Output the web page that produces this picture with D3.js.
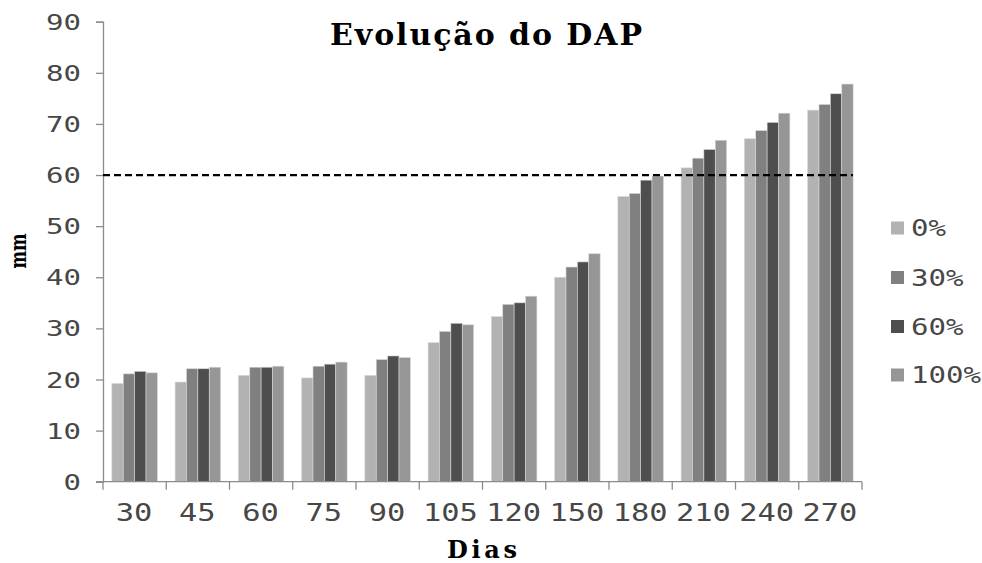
<!DOCTYPE html>
<html>
<head>
<meta charset="utf-8">
<script src="https://cdn.jsdelivr.net/npm/d3@7"></script>
<style>
  html, body { margin: 0; padding: 0; background: #fff; }
  svg { display: block; }
</style>
</head>
<body>
<svg id="chart" width="982" height="563"></svg>
<script>
const categories = ["30", "45", "60", "75", "90", "105", "120", "150", "180", "210", "240", "270"];
const seriesNames = ["0%", "30%", "60%", "100%"];
const values0   = [19.2, 19.5, 20.8, 20.3, 20.8, 27.2, 32.3, 40.0, 55.8, 61.4, 67.1, 72.7];
const values30  = [21.1, 22.1, 22.4, 22.6, 23.9, 29.4, 34.7, 42.0, 56.4, 63.3, 68.7, 73.8];
const values60  = [21.6, 22.1, 22.4, 23.0, 24.6, 31.0, 35.0, 43.0, 59.0, 65.0, 70.3, 75.9];
const values100 = [21.3, 22.4, 22.6, 23.4, 24.3, 30.7, 36.3, 44.6, 59.8, 66.8, 72.1, 77.8];
const yTicks = [0, 10, 20, 30, 40, 50, 60, 70, 80, 90];
const referenceValue = 60;
const titleText = "Evolução do DAP";
const xLabel = "Dias";
const yLabel = "mm";

const seriesValues = [values0, values30, values60, values100];
const colors = ["#b2b2b2", "#808080", "#4e4e4e", "#969696"];

const svg = d3.select("#chart");
const plotLeft = 103, plotRight = 862, plotTop = 21.7, plotBottom = 481.7;

const x = d3.scaleBand().domain(categories).range([plotLeft, plotRight]).paddingInner(0.28).paddingOuter(0.14);
const xs = d3.scaleBand().domain(seriesNames).range([0, x.bandwidth()]);
const y = d3.scaleLinear().domain([0, 90]).range([plotBottom, plotTop]);

const axisColor = "#8c8c8c";
const textColor = "#474747";
const monoFont = "'DejaVu Sans Mono', monospace";
const serifFont = "'DejaVu Serif', 'Liberation Serif', serif";

// bars
seriesNames.forEach((s, si) => {
  svg.append("g").selectAll("rect")
    .data(categories.map((c, i) => ({ c, v: seriesValues[si][i] })))
    .join("rect")
    .attr("x", d => x(d.c) + xs(s))
    .attr("y", d => y(d.v))
    .attr("width", xs.bandwidth())
    .attr("height", d => y(0) - y(d.v))
    .attr("fill", colors[si])
    .attr("stroke", "#d8d8d8")
    .attr("stroke-width", 0.6);
});

// y axis
const yAxis = svg.append("g").attr("transform", `translate(${plotLeft},0)`)
  .call(d3.axisLeft(y).tickValues(yTicks).tickSize(7).tickPadding(15));
yAxis.select(".domain").attr("stroke", axisColor).attr("stroke-width", 1.3);
yAxis.selectAll(".tick line").attr("stroke", axisColor).attr("stroke-width", 1.3);
yAxis.selectAll(".tick text")
  .attr("fill", textColor)
  .style("font-family", monoFont)
  .style("font-size", "21px")
  .attr("dy", "0.36em")
  .attr("textLength", d => String(d).length * 17.5)
  .attr("lengthAdjust", "spacingAndGlyphs");

// x axis
const xAxisG = svg.append("g").attr("transform", `translate(0,${plotBottom})`);
xAxisG.append("line").attr("x1", plotLeft - 7).attr("x2", plotRight).attr("y1", 0).attr("y2", 0)
  .attr("stroke", axisColor).attr("stroke-width", 1.3);
const boundaries = categories.map(c => x(c) - x.step() * x.paddingInner() / 2).concat([plotRight]);
xAxisG.selectAll("line.bt").data(boundaries).join("line").attr("class", "bt")
  .attr("x1", d => d).attr("x2", d => d).attr("y1", 0).attr("y2", 8)
  .attr("stroke", axisColor).attr("stroke-width", 1.3);
xAxisG.selectAll("text").data(categories).join("text")
  .attr("x", d => x(d) + x.bandwidth() / 2 - 0.5)
  .attr("y", 39.5)
  .attr("text-anchor", "middle")
  .attr("fill", textColor)
  .style("font-family", monoFont)
  .style("font-size", "25.5px")
  .attr("textLength", d => d.length * 18.3)
  .attr("lengthAdjust", "spacingAndGlyphs")
  .text(d => d);

// reference dashed line
svg.append("line")
  .attr("x1", plotLeft).attr("x2", 853)
  .attr("y1", y(referenceValue)).attr("y2", y(referenceValue))
  .attr("stroke", "#000").attr("stroke-width", 2.2)
  .attr("stroke-dasharray", "7,4");

// title
svg.append("text")
  .attr("x", 486).attr("y", 45)
  .attr("text-anchor", "middle")
  .style("font-family", serifFont)
  .style("font-weight", "bold")
  .style("font-size", "30px")
  .attr("textLength", 312).attr("lengthAdjust", "spacing")
  .attr("fill", "#000")
  .text(titleText);

// x label
svg.append("text")
  .attr("x", 482).attr("y", 558)
  .attr("text-anchor", "middle")
  .style("font-family", serifFont)
  .style("font-weight", "bold")
  .style("font-size", "24px")
  .attr("textLength", 70).attr("lengthAdjust", "spacing")
  .attr("fill", "#000")
  .text(xLabel);

// y label
svg.append("text")
  .attr("transform", "translate(26,251) rotate(-90)")
  .attr("text-anchor", "middle")
  .style("font-family", serifFont)
  .style("font-weight", "bold")
  .style("font-size", "22px")
  .attr("textLength", 35).attr("lengthAdjust", "spacingAndGlyphs")
  .attr("fill", "#000")
  .text(yLabel);

// legend
const legendY = [228, 277.5, 326.5, 375];
const lg = svg.append("g");
seriesNames.forEach((s, i) => {
  lg.append("rect").attr("x", 891).attr("y", legendY[i] - 6.5).attr("width", 13).attr("height", 13)
    .attr("fill", colors[i]);
  lg.append("text").attr("x", 911).attr("y", legendY[i]).attr("dy", "0.36em")
    .attr("fill", textColor)
    .style("font-family", monoFont)
    .style("font-size", "23px")
    .attr("textLength", s.length * 17.5)
    .attr("lengthAdjust", "spacingAndGlyphs")
    .text(s);
});
</script>
</body>
</html>
